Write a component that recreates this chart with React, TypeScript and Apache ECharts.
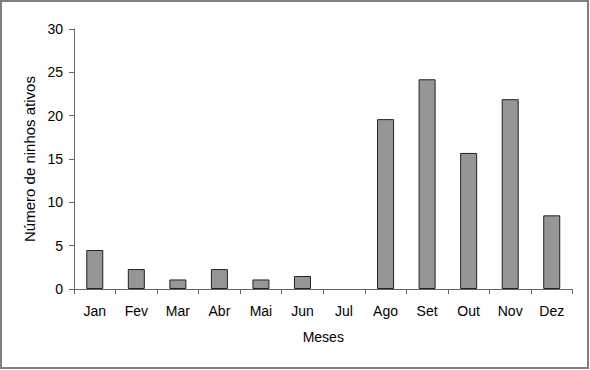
import React, { useEffect, useRef } from "react";
import * as echarts from "echarts";

const categories = ["Jan", "Fev", "Mar", "Abr", "Mai", "Jun", "Jul", "Ago", "Set", "Out", "Nov", "Dez"];
const values = [4.5, 2.3, 1.1, 2.3, 1.1, 1.5, 0, 19.6, 24.2, 15.7, 21.9, 8.5];
const yTicks = [0, 5, 10, 15, 20, 25, 30];

export default function App() {
  const ref = useRef<HTMLDivElement>(null);
  useEffect(() => {
    if (!ref.current) return;
    const chart = echarts.init(ref.current, null, { renderer: "svg" });
    const font = "Liberation Sans, Arial, sans-serif";
    chart.setOption({
      animation: false,
      backgroundColor: "#ffffff",
      textStyle: { fontFamily: font },
      graphic: [
        {
          type: "rect",
          shape: { x: 1, y: 1, width: 587, height: 367 },
          style: { fill: "none", stroke: "#7f7f7f", lineWidth: 2 },
          silent: true,
        },
      ],
      grid: { left: 74, right: 17.5, top: 29, bottom: 81 },
      xAxis: {
        type: "category",
        data: categories,
        name: "Meses",
        nameLocation: "middle",
        nameGap: 41,
        nameTextStyle: { color: "#000", fontSize: 14, fontFamily: font },
        axisLine: { lineStyle: { color: "#666", width: 1 } },
        axisTick: { show: true, alignWithLabel: false, length: 5, lineStyle: { color: "#666" } },
        axisLabel: { color: "#000", fontSize: 14, margin: 15, fontFamily: font },
        splitLine: { show: false },
      },
      yAxis: {
        type: "value",
        min: yTicks[0],
        max: yTicks[yTicks.length - 1],
        interval: 5,
        name: "Número de ninhos ativos",
        nameLocation: "middle",
        nameGap: 35,
        nameRotate: 90,
        nameTextStyle: { color: "#000", fontSize: 15, fontFamily: font },
        axisLine: { show: true, lineStyle: { color: "#666", width: 1 } },
        axisTick: { show: true, length: 5, lineStyle: { color: "#666" } },
        axisLabel: { color: "#000", fontSize: 14, margin: 11, fontFamily: font },
        splitLine: { show: false },
      },
      series: [
        {
          type: "bar",
          data: values.map((v) => (v === 0 ? { value: v, itemStyle: { borderWidth: 0 } } : v)),
          barWidth: 17,
          itemStyle: { color: "#969696", borderColor: "#222", borderWidth: 1 },
        },
      ],
    });
    return () => chart.dispose();
  }, []);
  return (
    <div
      ref={ref}
      style={{ position: "fixed", left: 0, top: 0, width: 590, height: 370 }}
    />
  );
}
